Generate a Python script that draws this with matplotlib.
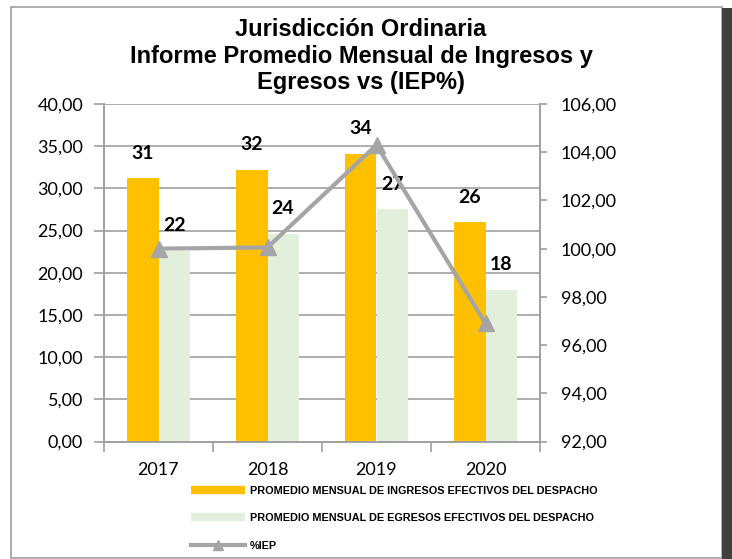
"""Jurisdicción Ordinaria: ingresos / egresos mensuales vs IEP%."""

import matplotlib

matplotlib.use("Agg")
import matplotlib.pyplot as plt
from matplotlib.lines import Line2D
from matplotlib.patches import Rectangle
from matplotlib.ticker import FuncFormatter

years = ["2017", "2018", "2019", "2020"]
ingresos = [31.2, 32.2, 34.1, 26.0]
egresos = [22.6, 24.6, 27.5, 18.0]
iep = [100.0, 100.05, 104.3, 96.9]

ORANGE = "#FFC000"
GREEN = "#E2EFDA"
GRAY = "#A5A5A5"
AXIS = "#A0A0A0"

plt.rcParams["font.family"] = ["Lato", "DejaVu Sans"]

fig = plt.figure(figsize=(7.32, 5.59), dpi=100)

# chart frame
fig.patches.append(Rectangle((11 / 732, 1 / 559), 711 / 732, 551 / 559,
                             transform=fig.transFigure, fill=False,
                             edgecolor=AXIS, lw=1.2))
fig.patches.append(Rectangle((722 / 732, 0), 10 / 732, 551 / 559,
                             transform=fig.transFigure, facecolor="#404040",
                             edgecolor="none"))

ax = fig.add_axes([104 / 732, 1 - 441.5 / 559, 436 / 732, 337.5 / 559])
ax2 = ax.twinx()

x = range(len(years))
w = 0.285
b1 = ax.bar([i - w / 2 for i in x], ingresos, w, color=ORANGE, zorder=2)
b2 = ax.bar([i + w / 2 for i in x], egresos, w, color=GREEN, zorder=2)

for bars, vals in ((b1, ingresos), (b2, egresos)):
    for rect, v in zip(bars, vals):
        ax.annotate(f"{int(v)}", (rect.get_x() + rect.get_width() / 2, v),
                    xytext=(0, 18), textcoords="offset points",
                    ha="center", va="center", fontsize=14, fontweight="bold",
                    zorder=5)

ax2.plot(list(x), iep, color=GRAY, lw=3, marker="^", markersize=12,
         markeredgecolor=GRAY, markerfacecolor=GRAY, zorder=4)

fmt = FuncFormatter(lambda v, _: f"{v:.2f}".replace(".", ","))

ax.set_xlim(-0.5, 3.5)
ax.set_ylim(0, 40)
ax.set_yticks(range(0, 41, 5))
ax.yaxis.set_major_formatter(fmt)
ax.set_xticks(list(x))
ax.set_xticklabels(years, fontsize=13)
ax.set_xticks([-0.5, 0.5, 1.5, 2.5, 3.5], minor=True)
ax.tick_params(axis="x", which="major", length=0, pad=15)
ax.tick_params(axis="x", which="minor", length=7, color=AXIS, width=1.2)
ax.tick_params(axis="y", length=7, color=AXIS, width=1.2, labelsize=13, pad=8)
ax.grid(axis="y", color=AXIS, lw=1.2, zorder=0)
ax.set_axisbelow(True)

ax2.set_ylim(92, 106)
ax2.set_yticks(range(92, 107, 2))
ax2.yaxis.set_major_formatter(fmt)
ax2.tick_params(axis="y", length=5, color=AXIS, width=1.2, labelsize=13, pad=10)

for a in (ax, ax2):
    a.spines["top"].set_visible(False)
    for s in ("left", "right", "bottom"):
        a.spines[s].set_color(AXIS)
        a.spines[s].set_linewidth(1.2)

fig.text(361 / 732, 1 - 56 / 559,
         "Jurisdicción Ordinaria\nInforme Promedio Mensual de Ingresos y\nEgresos vs (IEP%)",
         ha="center", va="center", fontsize=17, fontweight="bold",
         linespacing=1.2,
         family=["Liberation Sans", "DejaVu Sans"])

handles = [
    Line2D([], [], color=ORANGE, lw=6, solid_capstyle="butt"),
    Line2D([], [], color=GREEN, lw=6, solid_capstyle="butt"),
    Line2D([], [], color=GRAY, lw=3, marker="^", markersize=7),
]
labels = [
    "PROMEDIO MENSUAL DE INGRESOS EFECTIVOS DEL DESPACHO",
    "PROMEDIO MENSUAL DE EGRESOS EFECTIVOS DEL DESPACHO",
    "%IEP",
]
fig.legend(handles, labels, loc="upper left",
           bbox_to_anchor=(181 / 732, 1 - 476 / 559), frameon=False,
           handlelength=5.0, handletextpad=0.45, labelspacing=1.6,
           prop={"family": ["Liberation Sans", "DejaVu Sans"],
                 "weight": "bold", "size": 7.85})

fig.savefig("out.png", dpi=100)
